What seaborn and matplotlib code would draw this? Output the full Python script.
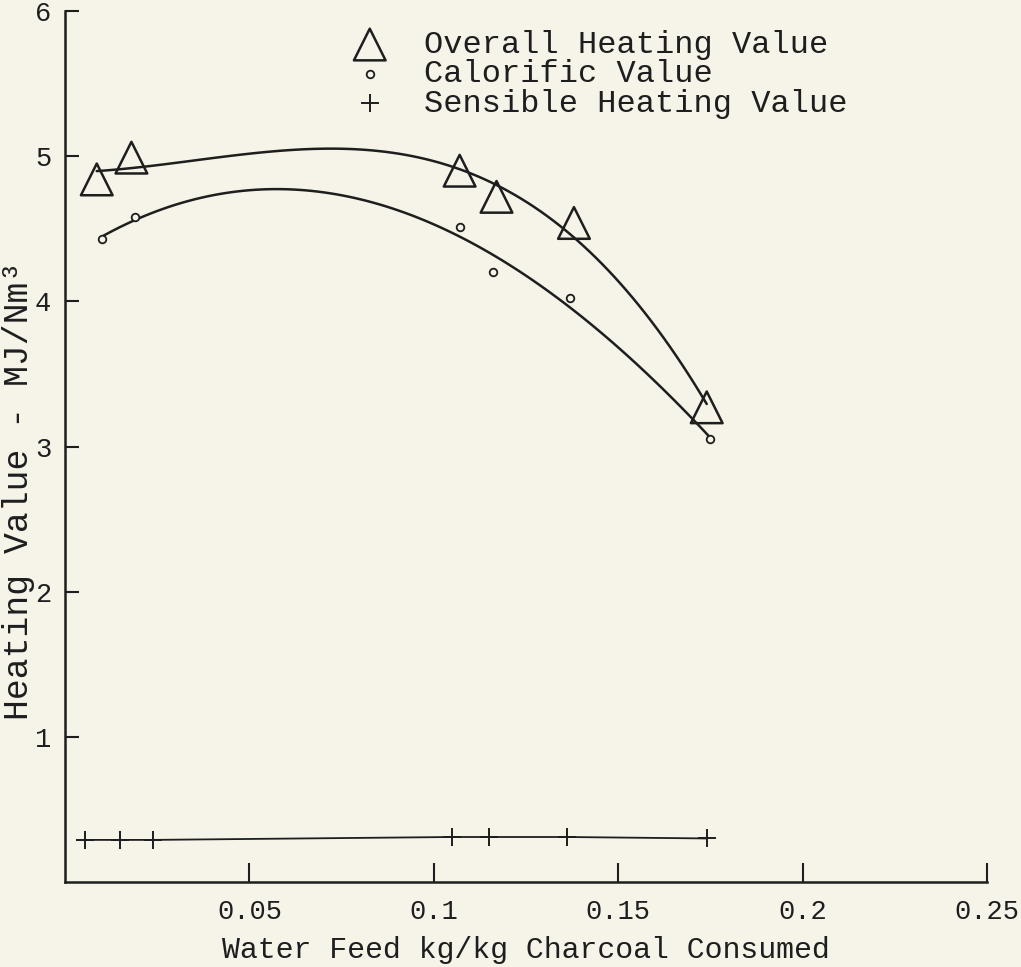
import matplotlib
matplotlib.use("Agg")
import matplotlib.pyplot as plt
import seaborn as sns
import numpy as np
import pandas as pd

# ---- data ----
overall_x = [0.0086, 0.018, 0.107, 0.117, 0.138, 0.174]
overall_y = [4.84, 4.99, 4.90, 4.72, 4.54, 3.27]

calorific_x = [0.010, 0.019, 0.107, 0.116, 0.137, 0.175]
calorific_y = [4.43, 4.58, 4.51, 4.20, 4.02, 3.05]

sensible_x = [0.0054, 0.0149, 0.0238, 0.105, 0.115, 0.136, 0.174]
sensible_y = [0.29, 0.29, 0.29, 0.31, 0.31, 0.31, 0.30]

x_ticks = [0.05, 0.1, 0.15, 0.2, 0.25]
x_ticklabels = ["0.05", "0.1", "0.15", "0.2", "0.25"]
y_ticks = [1, 2, 3, 4, 5, 6]

ink = "#1e1e1e"
paper = "#f6f3e9"

sns.set_theme(style="ticks")
plt.rcParams["font.family"] = ["Liberation Mono", "DejaVu Sans Mono"]

fig = plt.figure(figsize=(10.21, 9.67), dpi=100, facecolor=paper)
ax = fig.add_axes([0.0637, 0.0879, 0.903, 0.9007])
ax.set_facecolor(paper)

df_o = pd.DataFrame({"x": overall_x, "y": overall_y})
df_c = pd.DataFrame({"x": calorific_x, "y": calorific_y})
df_s = pd.DataFrame({"x": sensible_x, "y": sensible_y})

# fitted curves
sns.regplot(data=df_o, x="x", y="y", order=3, ci=None, scatter=False,
            line_kws=dict(color=ink, lw=1.8), ax=ax)
sns.regplot(data=df_c, x="x", y="y", order=3, ci=None, scatter=False,
            line_kws=dict(color=ink, lw=1.8), ax=ax)
sns.lineplot(data=df_s, x="x", y="y", color=ink, lw=1.3, ax=ax)

# markers
sns.scatterplot(data=df_o, x="x", y="y", marker="^", s=520, facecolor="none",
                edgecolor=ink, linewidth=1.8, ax=ax, label="Overall Heating Value", zorder=5)
sns.scatterplot(data=df_c, x="x", y="y", marker="o", s=30, facecolor=paper,
                edgecolor=ink, linewidth=1.3, ax=ax, label="Calorific Value", zorder=5)
sns.scatterplot(data=df_s, x="x", y="y", marker="+", s=160, color=ink,
                linewidth=1.4, ax=ax, label="Sensible Heating Value", zorder=5)

ax.set_xlim(0, 0.25)
ax.set_ylim(0, 6)
ax.set_xticks(x_ticks)
ax.set_xticklabels(x_ticklabels)
ax.set_yticks(y_ticks)
sns.despine(ax=ax)
for side in ("left", "bottom"):
    ax.spines[side].set_color(ink)
    ax.spines[side].set_linewidth(1.8)
ax.tick_params(axis="x", direction="in", length=14, width=1.5, colors=ink,
               labelsize=19.5, pad=12)
ax.tick_params(axis="y", direction="in", length=10, width=1.5, colors=ink,
               labelsize=19.5, pad=10)
ax.set_xlabel("Water Feed kg/kg Charcoal Consumed", fontsize=21.5, color=ink, labelpad=8)
ax.set_ylabel("Heating Value - MJ/Nm³", fontsize=25, color=ink)
ax.yaxis.set_label_coords(-0.033, 0.45)

leg = ax.legend(loc="upper left", bbox_to_anchor=(0.2716, 1.004), frameon=False,
                fontsize=23, handletextpad=0.7, labelspacing=-0.02,
                labelcolor=ink, borderpad=0.2)

fig.savefig("out.png", dpi=100, facecolor=paper)
